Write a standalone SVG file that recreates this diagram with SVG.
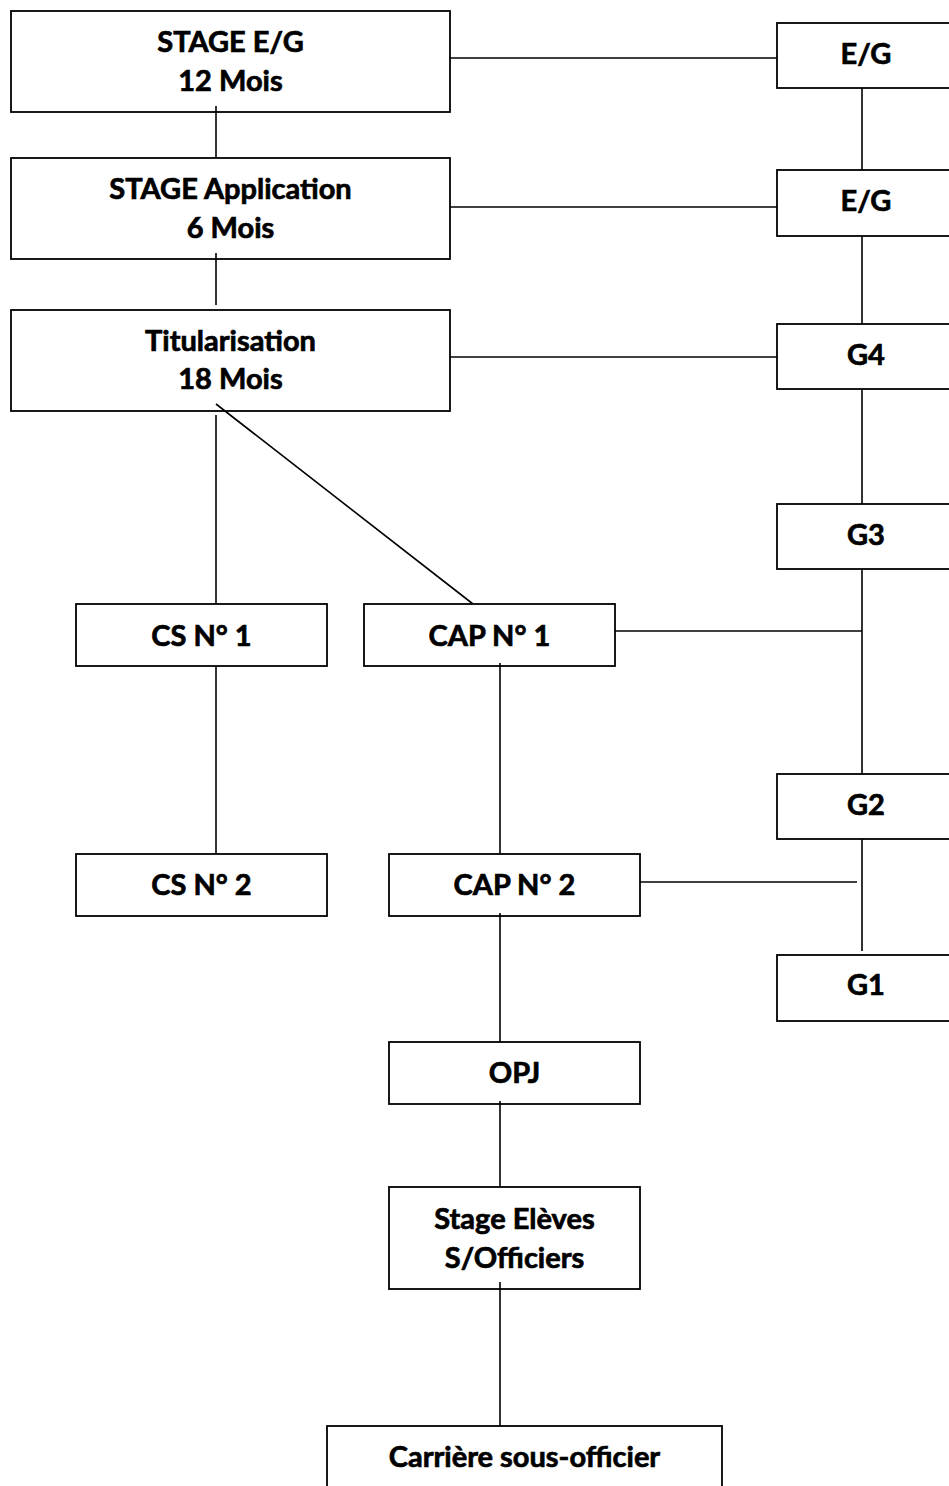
<svg xmlns="http://www.w3.org/2000/svg" width="949" height="1486" viewBox="0 0 949 1486">
<style>
.box{fill:#fff;stroke:#000;stroke-width:1.8}
.ln{stroke:#000;stroke-width:1.6;fill:none}
text{font-family:Lato,"Open Sans","Liberation Sans",sans-serif;font-weight:bold;font-size:29px;fill:#000;stroke:#000;stroke-width:0.7;text-anchor:middle}
</style>
<rect width="949" height="1486" fill="#fff"/>
<g id="connectors">
<line class="ln" x1="216" y1="106" x2="216" y2="158"/>
<line class="ln" x1="216" y1="253" x2="216" y2="305"/>
<line class="ln" x1="216" y1="415" x2="216" y2="604"/>
<line class="ln" x1="216" y1="404" x2="473" y2="604"/>
<line class="ln" x1="216" y1="666" x2="216" y2="854"/>
<line class="ln" x1="500" y1="663" x2="500" y2="854"/>
<line class="ln" x1="500" y1="913" x2="500" y2="1042"/>
<line class="ln" x1="500" y1="1101" x2="500" y2="1187"/>
<line class="ln" x1="500" y1="1282" x2="500" y2="1426"/>
<line class="ln" x1="450" y1="58" x2="777" y2="58"/>
<line class="ln" x1="450" y1="207" x2="777" y2="207"/>
<line class="ln" x1="450" y1="357" x2="777" y2="357"/>
<line class="ln" x1="615" y1="631" x2="862" y2="631"/>
<line class="ln" x1="640" y1="882" x2="857" y2="882"/>
<line class="ln" x1="862" y1="88" x2="862" y2="170"/>
<line class="ln" x1="862" y1="236" x2="862" y2="324"/>
<line class="ln" x1="862" y1="389" x2="862" y2="504"/>
<line class="ln" x1="862" y1="569" x2="862" y2="774"/>
<line class="ln" x1="862" y1="839" x2="862" y2="951"/>
</g>
<g id="stage-eg">
<rect class="box" x="11" y="11" width="439" height="101"/>
<text x="230.5" y="52">STAGE E/G</text>
<text x="230.5" y="90.5">12 Mois</text>
</g>
<line class="ln" x1="216" y1="106" x2="216" y2="112"/>
<g id="stage-application">
<rect class="box" x="11" y="158" width="439" height="101"/>
<text x="230.5" y="199">STAGE Application</text>
<text x="230.5" y="237.5">6 Mois</text>
</g>
<line class="ln" x1="216" y1="253" x2="216" y2="259"/>
<g id="titularisation">
<rect class="box" x="11" y="310" width="439" height="101"/>
<text x="230.5" y="350.5">Titularisation</text>
<text x="230.5" y="389">18 Mois</text>
</g>
<line class="ln" x1="216" y1="404" x2="225" y2="411"/>
<g id="eg1">
<rect class="box" x="777" y="23" width="178" height="65"/>
<text x="866" y="64">E/G</text>
</g>
<g id="eg2">
<rect class="box" x="777" y="170" width="178" height="66"/>
<text x="866" y="210.5">E/G</text>
</g>
<g id="g4">
<rect class="box" x="777" y="324" width="178" height="65"/>
<text x="866" y="365">G4</text>
</g>
<g id="g3">
<rect class="box" x="777" y="504" width="178" height="65"/>
<text x="866" y="544.5">G3</text>
</g>
<g id="g2">
<rect class="box" x="777" y="774" width="178" height="65"/>
<text x="866" y="814.5">G2</text>
</g>
<g id="g1">
<rect class="box" x="777" y="955" width="178" height="66"/>
<text x="866" y="995">G1</text>
</g>
<g id="cs1">
<rect class="box" x="76" y="604" width="251" height="62"/>
<text x="201.5" y="645.5">CS N° 1</text>
</g>
<g id="cap1">
<rect class="box" x="364" y="604" width="251" height="62"/>
<text x="489.5" y="645.5">CAP N° 1</text>
</g>
<line class="ln" x1="500" y1="663" x2="500" y2="666"/>
<g id="cs2">
<rect class="box" x="76" y="854" width="251" height="62"/>
<text x="201.5" y="895">CS N° 2</text>
</g>
<g id="cap2">
<rect class="box" x="389" y="854" width="251" height="62"/>
<text x="514.5" y="895">CAP N° 2</text>
</g>
<line class="ln" x1="500" y1="913" x2="500" y2="916"/>
<g id="opj">
<rect class="box" x="389" y="1042" width="251" height="62"/>
<text x="514.5" y="1083">OPJ</text>
</g>
<line class="ln" x1="500" y1="1101" x2="500" y2="1104"/>
<g id="stage-eleves">
<rect class="box" x="389" y="1187" width="251" height="102"/>
<text x="514.5" y="1229">Stage Elèves</text>
<text x="514.5" y="1267.5">S/Officiers</text>
</g>
<line class="ln" x1="500" y1="1282" x2="500" y2="1289"/>
<g id="carriere">
<rect class="box" x="327" y="1426" width="395" height="80"/>
<text x="524.5" y="1466.5">Carrière sous-officier</text>
</g>
</svg>
